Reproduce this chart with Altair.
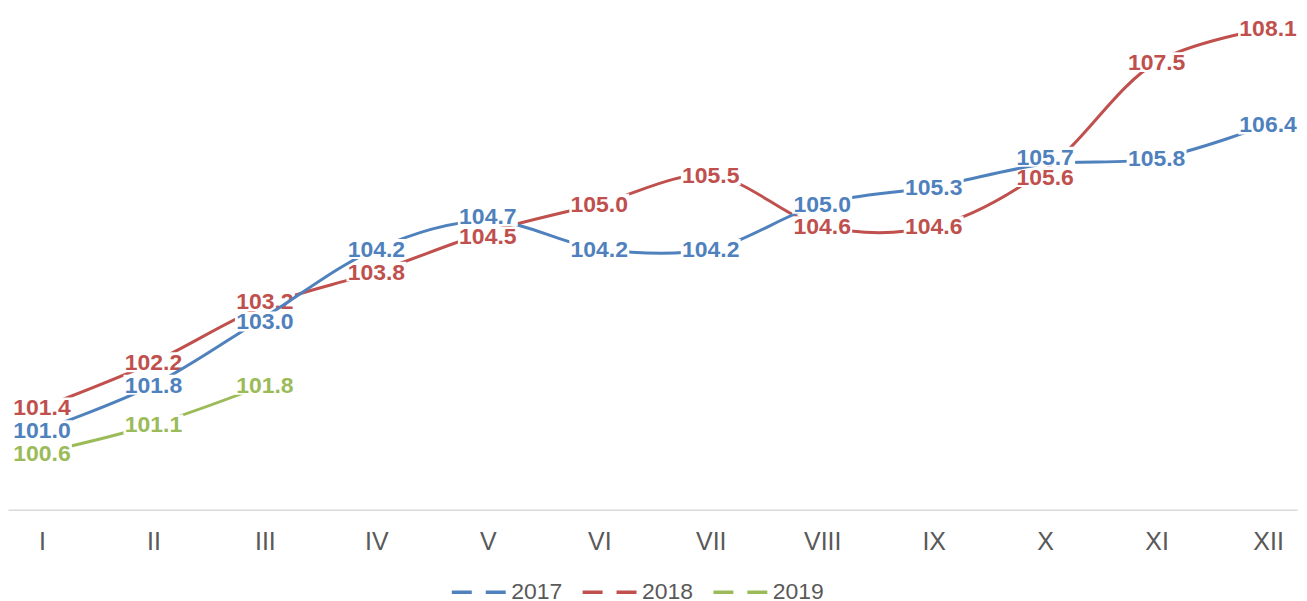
import altair as alt
import pandas as pd

months = ["I", "II", "III", "IV", "V", "VI", "VII", "VIII", "IX", "X", "XI", "XII"]
years = ["2017", "2018", "2019"]
v2017 = [101.0, 101.8, 103.0, 104.2, 104.7, 104.2, 104.2, 105.0, 105.3, 105.7, 105.8, 106.4]
v2018 = [101.4, 102.2, 103.2, 103.8, 104.5, 105.0, 105.5, 104.6, 104.6, 105.6, 107.5, 108.1]
v2019 = [100.6, 101.1, 101.8]
colors = ["#4F81BD", "#C0504D", "#9BBB59"]

series = {"2017": v2017, "2018": v2018, "2019": v2019}

# label positions: push apart labels of 2017/2018 that would collide
min_sep = 0.36
labpos = {yr: list(vals) for yr, vals in series.items()}
for i in range(len(months)):
    a, b = v2017[i], v2018[i]
    d = abs(a - b)
    if d < min_sep:
        push = (min_sep - d) / 2
        if a >= b:
            labpos["2017"][i] += push
            labpos["2018"][i] -= push
        else:
            labpos["2017"][i] -= push
            labpos["2018"][i] += push

rows = []
for yr in years:
    for m, v, lp in zip(months, series[yr], labpos[yr]):
        rows.append({"month": m, "year": yr, "value": v, "labpos": lp})
df = pd.DataFrame(rows)

x = alt.X(
    "month:N",
    sort=months,
    scale=alt.Scale(type="point", padding=0.2822, align=0.54),
    axis=alt.Axis(
        title=None, labelAngle=0, ticks=False, grid=False,
        domainColor="#d9d9d9", domainWidth=1.5,
        labelFont="Liberation Sans", labelFontSize=25, labelColor="#595959",
        labelPadding=20,
    ),
)
yscale = alt.Scale(domain=[99.595, 108.448], nice=False, zero=False)
y = alt.Y("value:Q", scale=yscale, axis=None)
ylab = alt.Y("labpos:Q", scale=yscale, axis=None)
color_scale = alt.Scale(domain=years, range=colors)

base = alt.Chart(df)
layers = []
for yr in ["2019", "2018", "2017"]:
    b = base.transform_filter(alt.datum.year == yr)
    line = b.mark_line(interpolate="catmull-rom", strokeWidth=3).encode(
        x=x, y=y,
        color=alt.Color(
            "year:N", scale=color_scale,
            legend=alt.Legend(
                title=None, orient="none", direction="horizontal",
                legendX=460, legendY=573,
                symbolType="M-5.4,0H-1.4M1.4,0H5.4", symbolSize=100,
                symbolStrokeWidth=3.5, labelFont="Liberation Sans",
                labelFontSize=23, labelColor="#595959", labelOffset=21,
                columnPadding=12, padding=0,
            ),
        ),
    )
    box = b.mark_point(
        shape="M-1.5,-0.5H1.5V0.5H-1.5Z", size=1600, filled=True,
        fill="white", opacity=1, strokeWidth=0,
    ).encode(x=x, y=ylab)
    text = b.mark_text(
        font="Liberation Sans", fontSize=23, fontWeight="bold", baseline="middle", dy=1,
    ).encode(
        x=x, y=ylab,
        text=alt.Text("value:Q", format=".1f"),
        color=alt.Color("year:N", scale=color_scale, legend=None),
    )
    layers += [line, box, text]

chart = alt.layer(*layers).properties(
    width=1291, height=502, padding=0, background="white"
).configure_view(stroke=None)

chart.save("out.html", embed_options={"renderer": "svg", "actions": False})
